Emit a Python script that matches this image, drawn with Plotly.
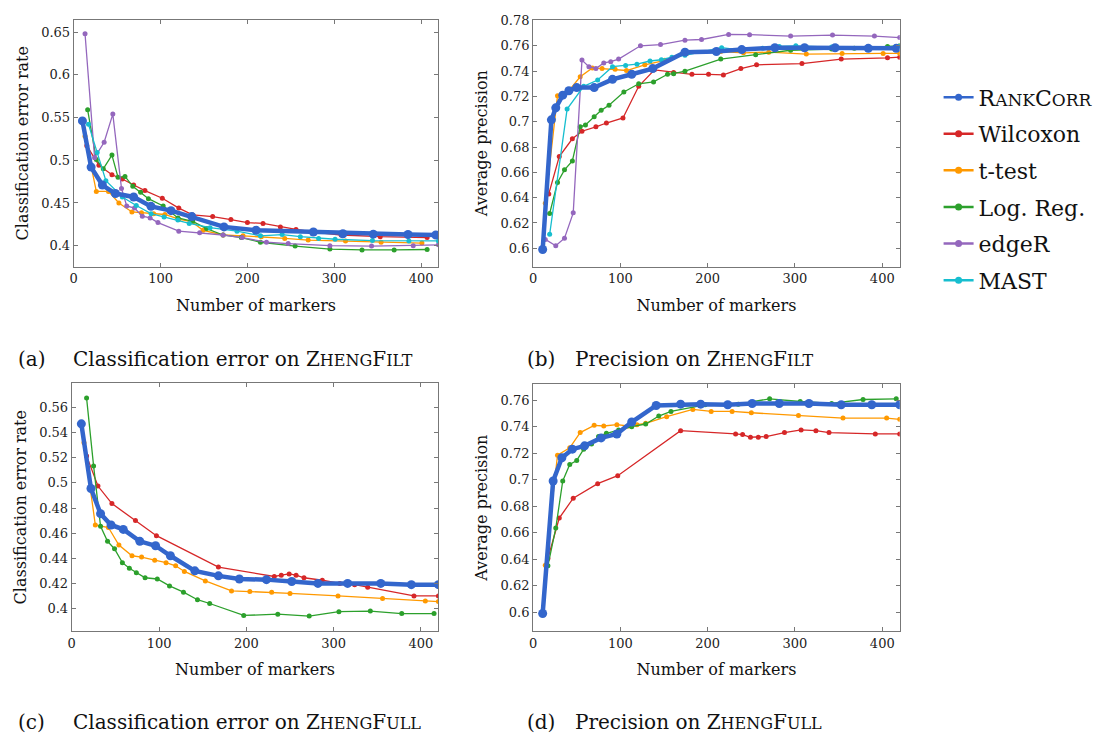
import plotly.graph_objects as go

W, H = 1099, 737
FONT = "DejaVu Serif"

# ---------------- data ----------------
methods = ["RankCorr", "Wilcoxon", "t-test", "Log. Reg.", "edgeR", "MAST"]
colors = {"RankCorr": "#3366cc", "Wilcoxon": "#d62728", "t-test": "#ff9900",
          "Log. Reg.": "#2ca02c", "edgeR": "#9467bd", "MAST": "#17becf"}

# (a) Classification error on ZhengFilt
a_rankcorr_x = [10, 20, 33, 48, 69, 89, 112, 136, 173, 210, 276, 310, 345, 385, 417]
a_rankcorr_y = [0.546, 0.492, 0.471, 0.461, 0.457, 0.446, 0.441, 0.434, 0.422, 0.418, 0.416, 0.414, 0.4135, 0.413, 0.4125]
a_wilcoxon_x = [15, 29, 44, 56, 69, 82, 102, 121, 137, 160, 181, 200, 218, 238, 256, 276, 308, 353, 407]
a_wilcoxon_y = [0.517, 0.494, 0.483, 0.478, 0.471, 0.4645, 0.4555, 0.444, 0.436, 0.434, 0.4305, 0.427, 0.426, 0.422, 0.419, 0.416, 0.4125, 0.4105, 0.4095]
a_ttest_x = [13, 26, 40, 52, 67, 78, 92, 105, 121, 136, 149, 172, 195, 216, 243, 270, 313, 354, 401]
a_ttest_y = [0.528, 0.4635, 0.4635, 0.450, 0.4395, 0.4385, 0.4375, 0.4365, 0.431, 0.428, 0.418, 0.4125, 0.4115, 0.4105, 0.4085, 0.4065, 0.4055, 0.404, 0.403]
a_logreg_x = [16, 26, 34, 44, 51, 59, 68, 77, 86, 103, 120, 137, 153, 172, 193, 215, 255, 295, 332, 369, 407]
a_logreg_y = [0.559, 0.501, 0.490, 0.506, 0.480, 0.481, 0.4695, 0.4625, 0.455, 0.4465, 0.4325, 0.4285, 0.420, 0.4125, 0.4095, 0.404, 0.3995, 0.396, 0.395, 0.395, 0.3955]
a_edger_x = [13, 24, 35, 45, 55, 61, 70, 79, 88, 97, 121, 145, 172, 194, 222, 247, 295, 343, 391, 420]
a_edger_y = [0.648, 0.503, 0.521, 0.554, 0.467, 0.4465, 0.444, 0.4345, 0.4325, 0.427, 0.417, 0.415, 0.4125, 0.4095, 0.404, 0.4025, 0.400, 0.3995, 0.400, 0.401]
a_mast_x = [17, 27, 37, 56, 72, 89, 104, 120, 133, 157, 188, 215, 240, 261, 282, 301, 344, 386, 420]
a_mast_y = [0.542, 0.509, 0.476, 0.457, 0.447, 0.4375, 0.4335, 0.430, 0.426, 0.421, 0.417, 0.4115, 0.413, 0.4105, 0.4085, 0.4075, 0.406, 0.4055, 0.4055]

# (b) Precision on ZhengFilt
b_rankcorr_x = [11, 21, 26, 34, 41, 50, 70, 91, 113, 137, 174, 210, 239, 277, 311, 346, 384, 416]
b_rankcorr_y = [0.599, 0.7015, 0.711, 0.721, 0.7245, 0.727, 0.727, 0.7335, 0.7375, 0.742, 0.755, 0.7555, 0.757, 0.7585, 0.7585, 0.7585, 0.758, 0.758]
b_wilcoxon_x = [18, 30, 45, 56, 72, 84, 103, 121, 139, 161, 182, 201, 218, 238, 256, 308, 353, 406, 420]
b_wilcoxon_y = [0.643, 0.6725, 0.6865, 0.6925, 0.696, 0.699, 0.703, 0.728, 0.741, 0.739, 0.7375, 0.7375, 0.737, 0.742, 0.745, 0.746, 0.7495, 0.7505, 0.751]
b_ttest_x = [14, 28, 41, 54, 68, 79, 94, 107, 128, 151, 176, 215, 241, 270, 313, 354, 401, 420]
b_ttest_y = [0.6355, 0.7205, 0.7245, 0.7355, 0.7425, 0.742, 0.7415, 0.7405, 0.745, 0.7485, 0.754, 0.7555, 0.7545, 0.755, 0.7535, 0.754, 0.754, 0.754]
b_logreg_x = [19, 28, 36, 45, 54, 60, 70, 78, 87, 104, 121, 138, 154, 161, 174, 215, 255, 295, 342, 368, 406, 420]
b_logreg_y = [0.6275, 0.652, 0.662, 0.669, 0.696, 0.6975, 0.704, 0.709, 0.713, 0.7235, 0.73, 0.7315, 0.7375, 0.738, 0.740, 0.7495, 0.753, 0.7565, 0.7575, 0.758, 0.7595, 0.760]
b_edger_x = [14, 26, 36, 46, 56, 64, 72, 81, 89, 98, 123, 146, 174, 193, 224, 248, 295, 343, 391, 420]
b_edger_y = [0.607, 0.602, 0.608, 0.628, 0.7487, 0.7435, 0.742, 0.7465, 0.7475, 0.7495, 0.760, 0.761, 0.7645, 0.765, 0.769, 0.7688, 0.7677, 0.7685, 0.7677, 0.7665]
b_mast_x = [19, 39, 58, 74, 91, 106, 119, 134, 147, 159, 174, 216, 239, 263, 282, 301, 342, 384, 418]
b_mast_y = [0.611, 0.710, 0.728, 0.733, 0.7435, 0.7445, 0.7455, 0.748, 0.749, 0.751, 0.7525, 0.7585, 0.7565, 0.758, 0.7595, 0.760, 0.759, 0.759, 0.7595]

# (c) Classification error on ZhengFull
c_rankcorr_x = [11, 22, 33, 45, 59, 78, 96, 113, 141, 168, 192, 223, 252, 282, 316, 354, 389, 420]
c_rankcorr_y = [0.547, 0.4955, 0.4755, 0.4665, 0.463, 0.4535, 0.450, 0.442, 0.430, 0.426, 0.4235, 0.423, 0.4215, 0.420, 0.420, 0.420, 0.419, 0.419]
c_wilcoxon_x = [17, 30, 46, 73, 97, 168, 232, 240, 249, 257, 266, 287, 307, 324, 339, 392, 420]
c_wilcoxon_y = [0.5215, 0.4975, 0.4835, 0.470, 0.458, 0.433, 0.4255, 0.4265, 0.4275, 0.4265, 0.4245, 0.4225, 0.420, 0.419, 0.417, 0.410, 0.410]
c_ttest_x = [14, 27, 42, 54, 69, 80, 95, 108, 119, 129, 153, 183, 204, 229, 250, 305, 356, 405, 420]
c_ttest_y = [0.532, 0.4665, 0.4645, 0.4505, 0.442, 0.441, 0.4385, 0.4365, 0.434, 0.4295, 0.422, 0.414, 0.4135, 0.413, 0.412, 0.410, 0.408, 0.406, 0.4055]
c_logreg_x = [17, 25, 33, 41, 49, 58, 66, 74, 84, 98, 112, 128, 144, 158, 197, 236, 272, 306, 342, 378, 415]
c_logreg_y = [0.5675, 0.5135, 0.4655, 0.4535, 0.4475, 0.4365, 0.432, 0.4285, 0.4245, 0.4235, 0.418, 0.413, 0.407, 0.404, 0.3945, 0.3955, 0.394, 0.3975, 0.398, 0.396, 0.396]

# (d) Precision on ZhengFull
d_rankcorr_x = [11, 23, 33, 45, 59, 78, 96, 113, 141, 169, 192, 223, 251, 282, 316, 353, 388, 420]
d_rankcorr_y = [0.599, 0.699, 0.7165, 0.723, 0.7255, 0.7315, 0.7345, 0.7435, 0.756, 0.757, 0.757, 0.7565, 0.7575, 0.7575, 0.7575, 0.7565, 0.7565, 0.7565]
d_wilcoxon_x = [17, 30, 46, 74, 97, 169, 232, 240, 249, 258, 267, 288, 307, 324, 339, 392, 420]
d_wilcoxon_y = [0.6405, 0.671, 0.686, 0.697, 0.703, 0.737, 0.7345, 0.734, 0.732, 0.732, 0.7325, 0.7355, 0.7375, 0.737, 0.7355, 0.7345, 0.7345]
d_ttest_x = [14, 28, 42, 54, 70, 81, 96, 109, 119, 129, 153, 183, 204, 228, 250, 304, 355, 405, 420]
d_ttest_y = [0.6355, 0.7185, 0.724, 0.7355, 0.741, 0.7405, 0.7415, 0.7405, 0.7415, 0.7425, 0.7475, 0.753, 0.7515, 0.7515, 0.7505, 0.7485, 0.7465, 0.7465, 0.7455]
d_logreg_x = [17, 26, 34, 42, 50, 58, 67, 75, 84, 98, 113, 129, 144, 158, 197, 235, 271, 306, 342, 378, 416]
d_logreg_y = [0.635, 0.6635, 0.699, 0.7115, 0.7145, 0.723, 0.727, 0.7325, 0.735, 0.7375, 0.740, 0.742, 0.748, 0.7515, 0.7565, 0.757, 0.761, 0.759, 0.7575, 0.7605, 0.761]

x_ticks = [0, 100, 200, 300, 400]
a_yticks = [0.4, 0.45, 0.5, 0.55, 0.6, 0.65]
a_yticktext = ["0.4", "0.45", "0.5", "0.55", "0.6", "0.65"]
b_yticks = [0.6, 0.62, 0.64, 0.66, 0.68, 0.7, 0.72, 0.74, 0.76, 0.78]
b_yticktext = ["0.6", "0.62", "0.64", "0.66", "0.68", "0.7", "0.72", "0.74", "0.76", "0.78"]
c_yticks = [0.4, 0.42, 0.44, 0.46, 0.48, 0.5, 0.52, 0.54, 0.56]
c_yticktext = ["0.4", "0.42", "0.44", "0.46", "0.48", "0.5", "0.52", "0.54", "0.56"]
d_yticks = [0.6, 0.62, 0.64, 0.66, 0.68, 0.7, 0.72, 0.74, 0.76]
d_yticktext = ["0.6", "0.62", "0.64", "0.66", "0.68", "0.7", "0.72", "0.74", "0.76"]

panels = {
    "a": {"RankCorr": (a_rankcorr_x, a_rankcorr_y), "Wilcoxon": (a_wilcoxon_x, a_wilcoxon_y),
          "t-test": (a_ttest_x, a_ttest_y), "Log. Reg.": (a_logreg_x, a_logreg_y),
          "edgeR": (a_edger_x, a_edger_y), "MAST": (a_mast_x, a_mast_y)},
    "b": {"RankCorr": (b_rankcorr_x, b_rankcorr_y), "Wilcoxon": (b_wilcoxon_x, b_wilcoxon_y),
          "t-test": (b_ttest_x, b_ttest_y), "Log. Reg.": (b_logreg_x, b_logreg_y),
          "edgeR": (b_edger_x, b_edger_y), "MAST": (b_mast_x, b_mast_y)},
    "c": {"RankCorr": (c_rankcorr_x, c_rankcorr_y), "Wilcoxon": (c_wilcoxon_x, c_wilcoxon_y),
          "t-test": (c_ttest_x, c_ttest_y), "Log. Reg.": (c_logreg_x, c_logreg_y)},
    "d": {"RankCorr": (d_rankcorr_x, d_rankcorr_y), "Wilcoxon": (d_wilcoxon_x, d_wilcoxon_y),
          "t-test": (d_ttest_x, d_ttest_y), "Log. Reg.": (d_logreg_x, d_logreg_y)},
}

# ---------------- layout geometry (pixels) ----------------
boxes = {  # left, right, top, bottom
    "a": (70, 436, 13, 262),
    "b": (531, 899, 13, 262),
    "c": (68, 436, 380, 630),
    "d": (531, 899, 381, 630),
}
yranges = {"a": [0.3756, 0.6643], "b": [0.5856, 0.7805], "c": [0.3821, 0.5792], "d": [0.5858, 0.7719]}
yticks = {"a": (a_yticks, a_yticktext), "b": (b_yticks, b_yticktext),
          "c": (c_yticks, c_yticktext), "d": (d_yticks, d_yticktext)}
ytitles = {"a": "Classification error rate", "b": "Average precision",
           "c": "Classification error rate", "d": "Average precision"}
axis_ids = {"a": "", "b": "2", "c": "3", "d": "4"}

fig = go.Figure()
order = ["Wilcoxon", "t-test", "Log. Reg.", "edgeR", "MAST", "RankCorr"]
for p, series in panels.items():
    aid = axis_ids[p]
    for m in order:
        if m not in series:
            continue
        xs, ys = series[m]
        thick = m == "RankCorr"
        fig.add_trace(go.Scatter(
            x=xs, y=ys, mode="lines+markers", name=m, showlegend=False,
            line=dict(color=colors[m], width=4.5 if thick else 1.3),
            marker=dict(color=colors[m], size=9 if thick else 5),
            xaxis="x" + aid, yaxis="y" + aid, cliponaxis=True))

# legend-only entries
small = lambda s, sz: f"<span style='font-size:{sz}px'>{s}</span>"
legend_names = {"RankCorr": "R" + small("ANK", 17) + "C" + small("ORR", 17)}
for i, m in enumerate(methods):
    fig.add_trace(go.Scatter(
        x=[None], y=[None], mode="lines+markers", name=legend_names.get(m, m),
        legendgroup=m, line=dict(color=colors[m], width=2.5),
        marker=dict(color=colors[m], size=7), showlegend=True))

axis_common = dict(showline=True, linecolor="#777", linewidth=1, mirror="ticks",
                   ticks="inside", ticklen=4, tickcolor="#777", showgrid=False, zeroline=False,
                   tickfont=dict(family=FONT, size=13, color="#222"))
layout = dict(width=W, height=H, autosize=False, margin=dict(l=0, r=0, t=0, b=0),
              paper_bgcolor="white", plot_bgcolor="white",
              font=dict(family=FONT, color="#111"))
for p, (l, r, t, b) in boxes.items():
    aid = axis_ids[p]
    xk = "xaxis" + aid
    yk = "yaxis" + aid
    layout[xk] = dict(axis_common, domain=[l / W, r / W], range=[0, 420],
                      tickvals=x_ticks, anchor="y" + aid,
                      title=dict(text="Number of markers", font=dict(family=FONT, size=16), standoff=14))
    tv, tt = yticks[p]
    layout[yk] = dict(axis_common, domain=[1 - b / H, 1 - t / H], range=yranges[p],
                      tickvals=tv, ticktext=tt, anchor="x" + aid,
                      title=dict(text=ytitles[p], font=dict(family=FONT, size=16), standoff=8))
layout["legend"] = dict(x=938 / W, y=1 - 70 / H, xanchor="left", yanchor="top",
                        font=dict(family=FONT, size=22, color="#111"), tracegroupgap=5,
                        bgcolor="rgba(0,0,0,0)", itemwidth=30)
fig.update_layout(**layout)

# captions
def sc(first, rest):
    return first + small(rest, 16)
captions = [
    ("(a)", "Classification error on " + sc("Z", "HENG") + sc("F", "ILT"), 12, 67, 355),
    ("(b)", "Precision on " + sc("Z", "HENG") + sc("F", "ILT"), 523, 571, 355),
    ("(c)", "Classification error on " + sc("Z", "HENG") + sc("F", "ULL"), 12, 67, 722),
    ("(d)", "Precision on " + sc("Z", "HENG") + sc("F", "ULL"), 523, 571, 722),
]
for lab, txt, x0, x1, yc in captions:
    for s, xx in ((lab, x0), (txt, x1)):
        fig.add_annotation(text=s, x=xx / W, y=1 - yc / H, xref="paper", yref="paper",
                           xanchor="left", yanchor="middle", showarrow=False,
                           font=dict(family=FONT, size=20, color="#111"))

fig.write_html("out.html")
